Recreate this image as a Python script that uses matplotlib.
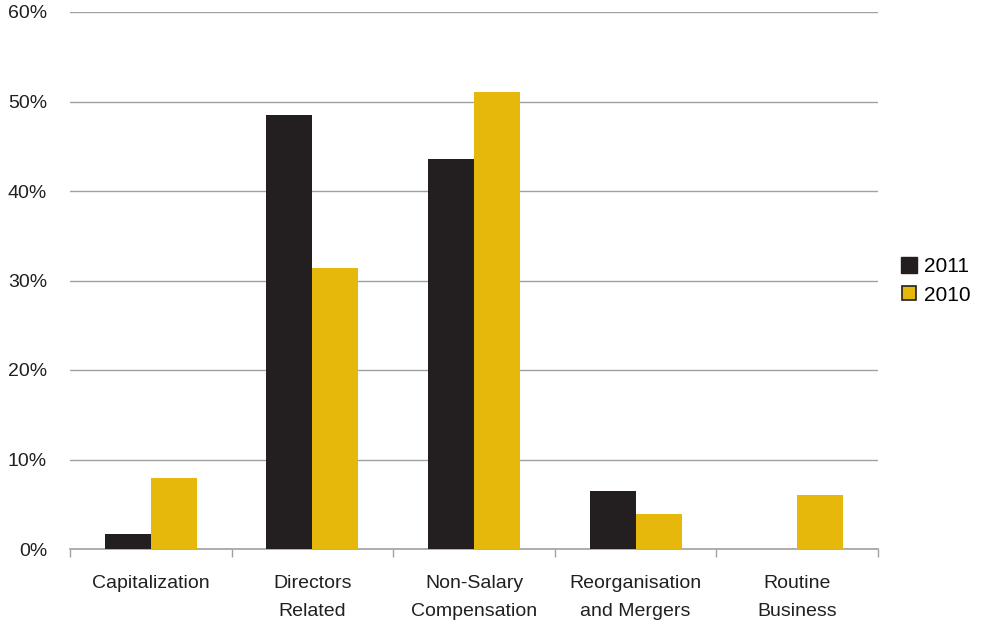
import numpy as np
import matplotlib.pyplot as plt
from matplotlib.lines import Line2D

plt.rcParams['font.family'] = ['Liberation Sans', 'DejaVu Sans']

categories = ['Capitalization', 'Directors\nRelated', 'Non-Salary\nCompensation',
              'Reorganisation\nand Mergers', 'Routine\nBusiness']
vals_2011 = [1.7, 48.5, 43.6, 6.5, 0.0]
vals_2010 = [7.9, 31.4, 51.1, 3.9, 6.0]
yticks = [0, 10, 20, 30, 40, 50, 60]

c2011 = '#231f20'
c2010 = '#e5b80b'
grid_c = '#a0a0a0'

fig = plt.figure(figsize=(9.81, 6.24), dpi=100)
ax = fig.add_axes([70/981, 75/624, (878-70)/981, (549-12)/624])

x = np.arange(len(categories))
w = 0.285
ax.bar(x - w/2, vals_2011, w, color=c2011, zorder=3)
ax.bar(x + w/2, vals_2010, w, color=c2010, zorder=3)

ax.set_xlim(-0.5, len(categories) - 0.5)
ax.set_ylim(0, 60)
ax.set_yticks(yticks)
ax.set_yticklabels([f'{t}%' for t in yticks], fontsize=14, color='#231f20')
ax.tick_params(axis='y', length=0, pad=16.5)
for t in yticks[1:]:
    ax.axhline(t, color=grid_c, lw=1, zorder=1)

ax.set_xticks(x)
ax.set_xticklabels(categories, fontsize=14, color='#231f20', linespacing=1.85)
ax.tick_params(axis='x', length=0, pad=19)
ax.set_xticks(np.arange(-0.5, len(categories)), minor=True)
ax.tick_params(axis='x', which='minor', length=6, color=grid_c, width=1)

for s in ['top', 'right', 'left']:
    ax.spines[s].set_visible(False)
ax.spines['bottom'].set_color(grid_c)
ax.spines['bottom'].set_linewidth(1.2)

handles = [Line2D([], [], marker='s', ls='', markersize=11, markerfacecolor=c2011,
                  markeredgecolor=c2011),
           Line2D([], [], marker='s', ls='', markersize=10, markerfacecolor=c2010,
                  markeredgecolor='#231f20', markeredgewidth=1.2)]
fig.legend(handles, ['2011', '2010'], loc='center left', bbox_to_anchor=(880/981, 1 - 281/624),
           frameon=False, fontsize=15, handletextpad=0.2, labelspacing=0.45,
           handlelength=1.0)

fig.savefig('out.png', dpi=100)
